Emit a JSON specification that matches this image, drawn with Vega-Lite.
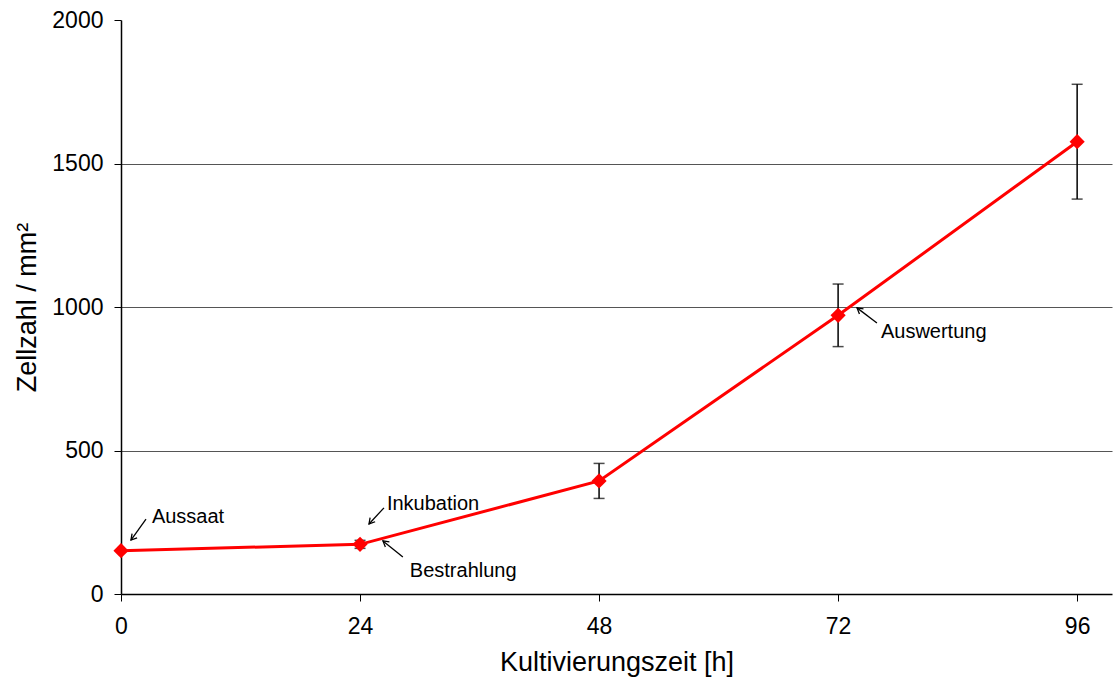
{
  "$schema": "https://vega.github.io/schema/vega-lite/v6.json",
  "width": 991,
  "height": 574,
  "autosize": {"type": "none"},
  "padding": {"left": 121, "top": 20, "right": 2, "bottom": 90},
  "background": "white",
  "config": {
    "view": {"stroke": null},
    "font": "Liberation Sans",
    "axis": {
      "labelFont": "Liberation Sans",
      "titleFont": "Liberation Sans",
      "labelColor": "black",
      "titleColor": "black",
      "titleFontWeight": "normal",
      "domainColor": "black",
      "tickColor": "black",
      "labelFlush": false
    }
  },
  "datasets": {
    "cells": [
      {"hour": 0, "count": 151},
      {"hour": 24, "count": 173, "low": 159, "high": 187},
      {"hour": 48, "count": 394, "low": 333, "high": 455},
      {"hour": 72, "count": 971, "low": 862, "high": 1080},
      {"hour": 96, "count": 1576, "low": 1376, "high": 1776}
    ],
    "notes": [
      {"label": "Aussaat", "hour": 2.51, "count": 261, "hour2": 1.0, "count2": 188, "textHour": 3.1, "textCount": 268, "dir": "down-left"},
      {"label": "Inkubation", "hour": 26.4, "count": 300, "hour2": 24.9, "count2": 244, "textHour": 26.7, "textCount": 314, "dir": "down-left"},
      {"label": "Bestrahlung", "hour": 28.3, "count": 129, "hour2": 26.3, "count2": 185, "textHour": 29.0, "textCount": 80, "dir": "up-left"},
      {"label": "Auswertung", "hour": 75.9, "count": 944, "hour2": 73.9, "count2": 997, "textHour": 76.3, "textCount": 913, "dir": "up-left"}
    ]
  },
  "layer": [
    {
      "data": {"name": "cells"},
      "mark": {"type": "line", "color": "#ff0000", "strokeWidth": 3},
      "encoding": {
        "x": {
          "field": "hour",
          "type": "quantitative",
          "scale": {"domain": [0, 99.5], "nice": false, "zero": false},
          "axis": {
            "values": [0, 24, 48, 72, 96],
            "format": "d",
            "title": "Kultivierungszeit [h]",
            "grid": false,
            "domainWidth": 1.5,
            "tickSize": 7,
            "tickWidth": 1,
            "labelFontSize": 23,
            "labelPadding": 14,
            "titleFontSize": 27,
            "titlePadding": 11
          }
        },
        "y": {
          "field": "count",
          "type": "quantitative",
          "scale": {"domain": [0, 2000], "nice": false},
          "axis": {
            "values": [0, 500, 1000, 1500, 2000],
            "format": "d",
            "title": "Zellzahl / mm²",
            "grid": true,
            "gridColor": "#555555",
            "gridWidth": 1,
            "gridOpacity": {"condition": {"test": "datum.value === 0 || datum.value === 2000", "value": 0}, "value": 1},
            "domainWidth": 1.5,
            "tickSize": 7,
            "tickWidth": 1,
            "labelFontSize": 23,
            "labelPadding": 11,
            "titleFontSize": 27,
            "titlePadding": 10
          }
        }
      }
    },
    {
      "data": {"name": "cells"},
      "transform": [{"filter": "isValid(datum.low)"}],
      "mark": {"type": "rule", "color": "black", "strokeWidth": 1.5},
      "encoding": {
        "x": {"field": "hour", "type": "quantitative"},
        "y": {"field": "low", "type": "quantitative"},
        "y2": {"field": "high"}
      }
    },
    {
      "data": {"name": "cells"},
      "transform": [
        {"filter": "isValid(datum.low)"},
        {"fold": ["low", "high"], "as": ["end", "bound"]}
      ],
      "mark": {"type": "tick", "orient": "horizontal", "color": "black", "size": 11, "thickness": 1.5},
      "encoding": {
        "x": {"field": "hour", "type": "quantitative"},
        "y": {"field": "bound", "type": "quantitative"}
      }
    },
    {
      "data": {"name": "cells"},
      "mark": {"type": "point", "shape": "diamond", "filled": true, "color": "#ff0000", "size": 230, "opacity": 1},
      "encoding": {
        "x": {"field": "hour", "type": "quantitative"},
        "y": {"field": "count", "type": "quantitative"}
      }
    },
    {
      "data": {"name": "notes"},
      "mark": {"type": "rule", "color": "black", "strokeWidth": 1.3},
      "encoding": {
        "x": {"field": "hour", "type": "quantitative"},
        "y": {"field": "count", "type": "quantitative"},
        "x2": {"field": "hour2"},
        "y2": {"field": "count2"}
      }
    },
    {
      "data": {"name": "notes"},
      "mark": {"type": "point", "filled": false, "color": "black", "strokeWidth": 1.3, "size": 170, "opacity": 1},
      "encoding": {
        "x": {"field": "hour2", "type": "quantitative"},
        "y": {"field": "count2", "type": "quantitative"},
        "shape": {
          "field": "dir",
          "type": "nominal",
          "scale": {"domain": ["down-left", "up-left"], "range": ["M0.94,-0.34L0,0L0.17,-0.98", "M0.37,0.93L0,0L0.99,0.14"]},
          "legend": null
        }
      }
    },
    {
      "data": {"name": "notes"},
      "mark": {"type": "text", "align": "left", "baseline": "middle", "fontSize": 20, "font": "Liberation Sans", "color": "black"},
      "encoding": {
        "x": {"field": "textHour", "type": "quantitative"},
        "y": {"field": "textCount", "type": "quantitative"},
        "text": {"field": "label"}
      }
    }
  ]
}
